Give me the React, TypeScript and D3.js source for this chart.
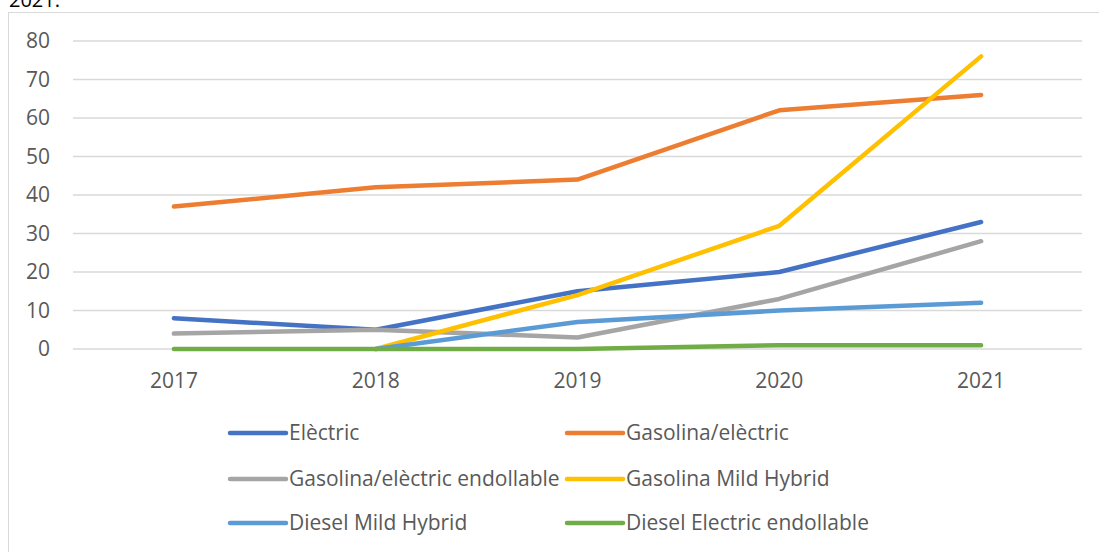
import React from "react";
import * as d3 from "d3";

const years = ["2017", "2018", "2019", "2020", "2021"];
const yTicks = [0, 10, 20, 30, 40, 50, 60, 70, 80];
const seriesNames = [
  "Elèctric",
  "Gasolina/elèctric",
  "Gasolina/elèctric endollable",
  "Gasolina Mild Hybrid",
  "Diesel Mild Hybrid",
  "Diesel Electric endollable",
];
const electric = [8, 5, 15, 20, 33];
const gasolinaElectric = [37, 42, 44, 62, 66];
const gasolinaEndollable = [4, 5, 3, 13, 28];
const gasolinaMild = [null, 0, 14, 32, 76];
const dieselMild = [null, 0, 7, 10, 12];
const dieselEndollable = [0, 0, 0, 1, 1];
const colors = ["#4472C4", "#ED7D31", "#A5A5A5", "#FFC000", "#5B9BD5", "#70AD47"];

const allSeries = [electric, gasolinaElectric, gasolinaEndollable, gasolinaMild, dieselMild, dieselEndollable];

const W = 1099;
const H = 552;
const FONT = "'Open Sans', sans-serif";

export default function App() {
  const x = d3.scaleBand<string>().domain(years).range([73, 1082]);
  const y = d3.scaleLinear().domain([0, 80]).range([349, 41]);
  const cx = (d: string) => (x(d) as number) + x.bandwidth() / 2;

  const line = d3
    .line<number | null>()
    .defined((d) => d !== null)
    .x((_, i) => cx(years[i]))
    .y((d) => y(d as number));

  const legendCols = [230, 567];
  const legendRows = [433, 479, 523];
  const legendLineLen = [56, 56];

  return (
    <div style={{ position: "fixed", left: 0, top: 0 }}>
      <svg width={W} height={H} style={{ display: "block", background: "#fff" }}>
        <text x={9} y={7} fontFamily={FONT} fontSize={20} fill="#000">
          2021.
        </text>
        <rect x={8.5} y={12.5} width={1200} height={600} fill="none" stroke="#d9d9d9" strokeWidth={1} />
        {yTicks.map((t) => (
          <g key={t}>
            <line x1={73} x2={1082} y1={y(t)} y2={y(t)} stroke="#d9d9d9" strokeWidth={1.5} />
            <text
              x={50}
              y={y(t)}
              dy="0.35em"
              textAnchor="end"
              fontFamily={FONT}
              fontSize={21}
              fill="#595959"
            >
              {t}
            </text>
          </g>
        ))}
        {years.map((yr) => (
          <text key={yr} x={cx(yr)} y={388} textAnchor="middle" fontFamily={FONT} fontSize={21} fill="#595959">
            {yr}
          </text>
        ))}
        {allSeries.map((s, i) => (
          <path
            key={i}
            d={line(s) || ""}
            fill="none"
            stroke={colors[i]}
            strokeWidth={4.5}
            strokeLinecap="round"
            strokeLinejoin="round"
          />
        ))}
        {seriesNames.map((name, i) => {
          const col = i % 2;
          const row = Math.floor(i / 2);
          const lx = legendCols[col];
          const ly = legendRows[row];
          return (
            <g key={name}>
              <line
                x1={lx}
                x2={lx + legendLineLen[col]}
                y1={ly}
                y2={ly}
                stroke={colors[i]}
                strokeWidth={4.5}
                strokeLinecap="round"
              />
              <text
                x={lx + legendLineLen[col] + 3}
                y={ly}
                dy="0.35em"
                fontFamily={FONT}
                fontSize={21}
                fill="#595959"
              >
                {name}
              </text>
            </g>
          );
        })}
      </svg>
    </div>
  );
}
